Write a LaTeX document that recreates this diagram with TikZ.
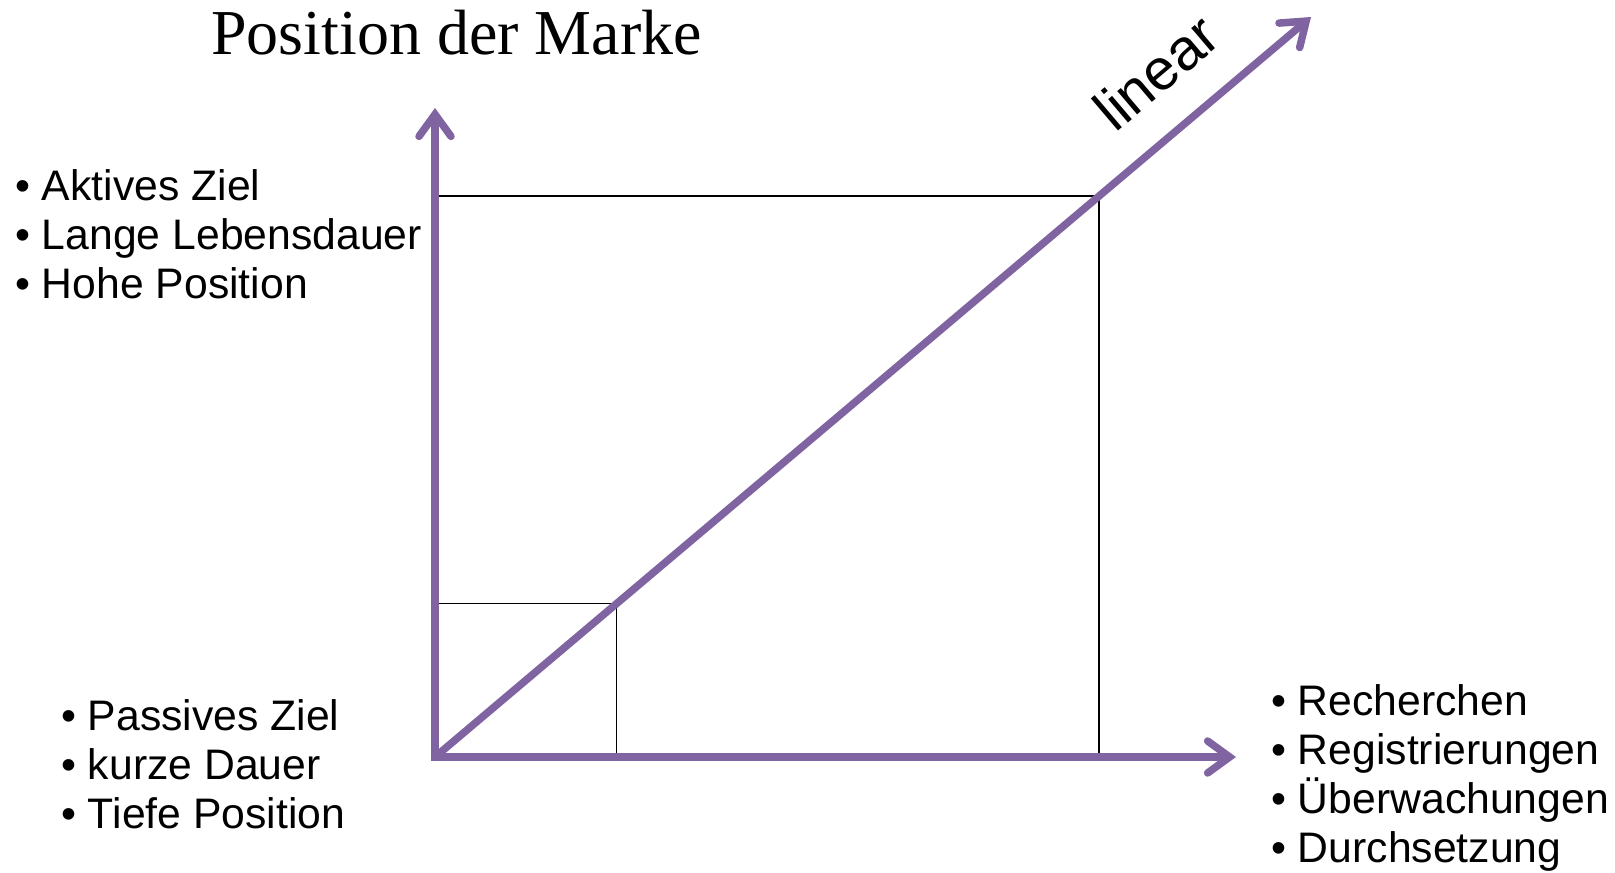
\documentclass[tikz,border=0pt]{standalone}
\usepackage{fontspec}
\usepackage{tikz}
\usetikzlibrary{arrows.meta,positioning,calc}
\setmainfont{Liberation Sans}
\newfontfamily\titlefont{Liberation Serif}
\definecolor{axispurple}{RGB}{128,100,162}

\begin{document}
\begin{tikzpicture}[x=1pt,y=-1pt,
  >={Straight Barb[length=22pt,width=32pt,line cap=round]},
  axis/.style={draw=axispurple,line width=7.5pt},
  guide/.style={draw=black,line width=1.3pt},
  lst/.style={font=\fontsize{42.7}{48.7}\selectfont,align=left,anchor=base west,inner sep=0pt}]
\useasboundingbox (0,0) rectangle (1615,873);
% axes and diagonal
\coordinate (o) at (435,757);
\coordinate (ytip) at (435,108);
\coordinate (xtip) at (1236,757);
\coordinate (dtip) at (1311,17);
\coordinate (hi) at ($(o)!0.758!(dtip)$);
\coordinate (lo) at ($(o)!0.207!(dtip)$);
\draw[guide] (o |- hi) -- (hi) -- (hi |- o);
\draw[guide] (o |- lo) -- (lo) -- (lo |- o);
\draw[axis,<->] (ytip) -- (o) -- (xtip);
\draw[axis,->] (o) -- (dtip);
% labels (lists sit on their last baseline)
\node[font=\titlefont\fontsize{64}{70}\selectfont,anchor=base west,inner sep=0pt] (title) at (211,54) {Position der Marke};
\node[font=\fontsize{58}{64}\selectfont,rotate=40.3] (lin) at (1156,72) {linear};
\node[lst] (act) at (15,298) {•~Aktives Ziel\\•~Lange Lebensdauer\\•~Hohe Position};
\node[lst] (pas) at (61,828) {•~Passives Ziel\\•~kurze Dauer\\•~Tiefe Position};
\node[lst] (rech) at (1271,862) {•~Recherchen\\•~Registrierungen\\•~Überwachungen\\•~Durchsetzung};
\end{tikzpicture}
\end{document}
